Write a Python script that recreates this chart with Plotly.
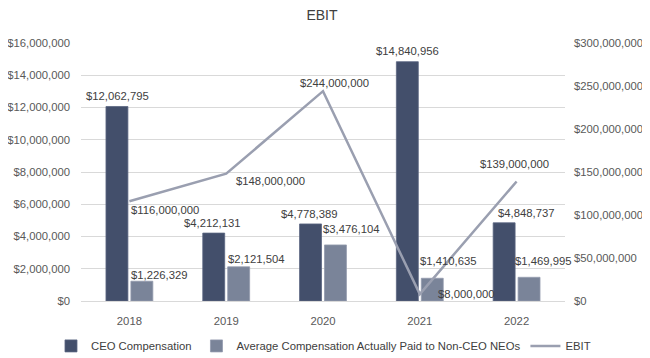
import plotly.graph_objects as go

years = ["2018", "2019", "2020", "2021", "2022"]
ceo_comp = [12062795, 4212131, 4778389, 14840956, 4848737]
avg_comp = [1226329, 2121504, 3476104, 1410635, 1469995]
ebit = [116000000, 148000000, 244000000, 8000000, 139000000]

left_ticks = list(range(0, 16000001, 2000000))
right_ticks = list(range(0, 300000001, 50000000))

FONT = "Liberation Sans, Arial, Helvetica, sans-serif"
TXT = "#404040"
FS = 11.3

def money(v):
    return "${:,}".format(v)

fig = go.Figure()
fig.add_trace(go.Bar(
    x=years, y=ceo_comp, name="CEO Compensation",
    marker=dict(color="#434f6b", line=dict(color="#5a6682", width=0.8)),
    cliponaxis=False,
))
fig.add_trace(go.Bar(
    x=years, y=avg_comp, name="Average Compensation Actually Paid to Non-CEO NEOs",
    marker=dict(color="#7a8499", line=dict(color="#939bad", width=0.8)),
    cliponaxis=False,
))
fig.add_trace(go.Scatter(
    x=years, y=ebit, name="EBIT", yaxis="y2", mode="lines",
    line=dict(color="#9a9fb0", width=2.5), cliponaxis=False,
))

lab_font = dict(color=TXT, size=FS, family=FONT)

# CEO compensation labels
ceo_shift = [(-12, 2.5), (-14, 2), (-14, 2), (-12, 2.5), (10, 2)]
for i, (v, (xs, ys)) in enumerate(zip(ceo_comp, ceo_shift)):
    fig.add_annotation(x=i, y=v, xref="x", yref="y", text=money(v), showarrow=False,
                       xanchor="center", yanchor="bottom", xshift=xs, yshift=ys, font=lab_font)

# Average compensation labels (offset to the right as in the reference)
avg_shift = [(30, -2), (30, 0), (28, 7.5), (29, 9), (27, 8)]
for i, (v, (xs, ys)) in enumerate(zip(avg_comp, avg_shift)):
    fig.add_annotation(x=i, y=v, xref="x", yref="y", text=money(v), showarrow=False,
                       xanchor="center", yanchor="bottom", xshift=xs, yshift=ys, font=lab_font)

# EBIT labels
ebit_anchor = [("left", "top", 0, -1), ("left", "top", 8, 1), ("center", "bottom", 11, 0),
               ("left", "middle", 16, 0), ("center", "bottom", -2, 9)]
for i, (v, (xa, ya, xs, ys)) in enumerate(zip(ebit, ebit_anchor)):
    fig.add_annotation(x=i, y=v, xref="x", yref="y2", text=money(v), showarrow=False,
                       xanchor=xa, yanchor=ya, xshift=xs, yshift=ys, font=lab_font)

fig.update_layout(
    width=650, height=358,
    margin=dict(l=73, r=93, t=35, b=65, autoexpand=False),
    paper_bgcolor="white", plot_bgcolor="white",
    font=dict(family=FONT, size=FS, color="#595959"),
    title=dict(text="EBIT", x=(322 - 8) / 650, xanchor="center", y=0.98, yanchor="middle",
               font=dict(size=14, color=TXT, family=FONT)),
    barmode="group", bargap=0.485, bargroupgap=0.12,
    showlegend=True,
    legend=dict(orientation="h", xref="paper", yref="paper",
                x=-0.062, xanchor="left", y=-0.174, yanchor="middle",
                font=dict(size=FS, color=TXT, family=FONT), traceorder="normal"),
    xaxis=dict(type="category", range=[-0.5, 4.5], autorange=False,
               showgrid=False, showline=False, ticks="",
               automargin=False,
               ticklabelstandoff=12, tickfont=dict(color="#595959", size=FS)),
    yaxis=dict(range=[0, 16000000], autorange=False, tickvals=left_ticks,
               ticktext=[money(v) for v in left_ticks],
               showgrid=True, gridcolor="#d9d9d9", gridwidth=1.3,
               zeroline=True, zerolinecolor="#d9d9d9", zerolinewidth=1.3,
               showline=False, ticks="", ticklabelstandoff=10, automargin=False,
               tickfont=dict(color="#595959", size=FS)),
    yaxis2=dict(range=[0, 300000000], autorange=False, tickvals=right_ticks,
                ticktext=[money(v) for v in right_ticks],
                overlaying="y", side="right", showgrid=False, zeroline=False,
                showline=False, ticks="", ticklabelstandoff=8, automargin=False,
                tickfont=dict(color="#595959", size=FS)),
)

fig.write_html("out.html")
